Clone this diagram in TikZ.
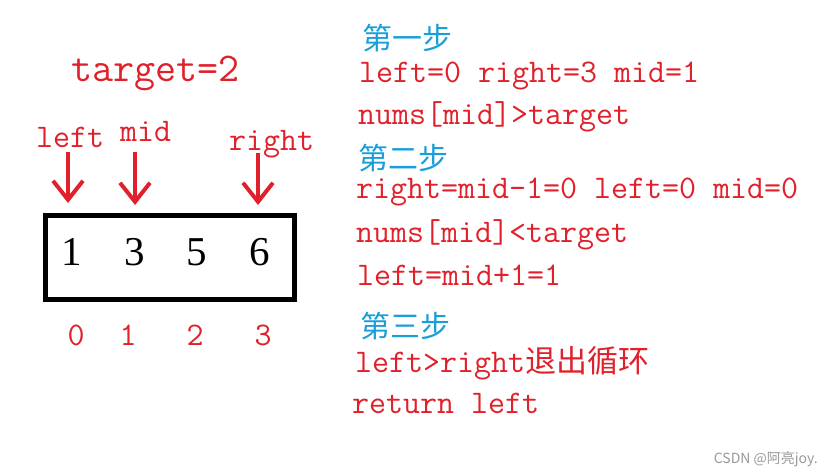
\documentclass[tikz,border=0pt]{standalone}
\usepackage{fontspec}
\setmainfont{Latin Modern Mono}
\newfontfamily\cjk{Noto Sans CJK SC}
\newfontfamily\numfont{Liberation Serif}
\usetikzlibrary{arrows.meta}
\definecolor{penred}{HTML}{E0202A}
\definecolor{stepblue}{HTML}{1A9ED9}
\begin{document}
\begin{tikzpicture}[x=1pt,y=-1pt,
  code/.style={anchor=base west,inner sep=0pt,text=penred,font=\fontsize{33}{34}\selectfont},
  stephead/.style={anchor=base west,inner sep=0pt,text=stepblue,font=\cjk\fontsize{30}{32}\selectfont},
  ptrlbl/.style={anchor=base west,inner sep=0pt,text=penred,font=\fontsize{33}{34}\selectfont},
  ptr/.style={penred,line width=4pt,-{Straight Barb[length=19pt,width=30pt]}},
  cell/.style={anchor=base,inner sep=0pt,font=\numfont\fontsize{41}{42}\selectfont},
  idx/.style={anchor=base,inner sep=0pt,text=penred,font=\fontsize{33}{34}\selectfont}]
\useasboundingbox (0,0) rectangle (833,476);
\node[anchor=base west,inner sep=0pt,text=penred,font=\fontsize{40.8}{42}\selectfont] (v1) at (71,82) {target=2};
\node[ptrlbl] (v2) at (36,148) {left};
\node[ptrlbl] (v3) at (120,142) {mid};
\node[ptrlbl] (v4) at (229,150) {right};
\node[draw,line width=5pt,minimum width=249pt,minimum height=84pt,inner sep=0pt] (arr) at (170,257.5) {};
\coordinate (t1) at (68,203);
\coordinate (t2) at (135,205);
\coordinate (t3) at (258,205);
\draw[ptr,shorten <=4pt] (v2.base -| t1) -- (t1);
\draw[ptr,shorten <=10pt] (v3.base -| t2) -- (t2);
\draw[ptr,shorten <=3pt] (v4.base -| t3) -- (t3);
\foreach \x/\v [count=\i from 0] in {72/1,135/3,197/5,260/6}
  \node[cell] (c\i) at (\x,265) {\v};
\foreach \x/\i in {76/0,128/1,195/2,263/3}
  \node[idx] (i\i) at (\x,345) {\i};
% steps
\node[stephead] (s1) at (362,50) {第一步};
\node[code] (l1) at (359,83) {left=0 right=3 mid=1};
\node[code] (l2) at (358,125) {nums[mid]>target};
\node[stephead] (s2) at (358,170) {第二步};
\node[code] (l3) at (356,198) {right=mid-1=0 left=0 mid=0};
\node[code] (l4) at (356,242) {nums[mid]<target};
\node[code] (l5) at (357,285) {left=mid+1=1};
\node[stephead] (s3) at (360,337) {第三步};
\node[code] (l6) at (355,372) {left>right{\cjk\fontsize{31}{32}\selectfont 退出循环}};
\node[code] (l7) at (352,413) {return left};
\node[anchor=base east,inner sep=0pt,text=black!40,font=\cjk\fontsize{14}{15}\selectfont] (wm) at (818,463) {CSDN @阿亮joy.};
\end{tikzpicture}
\end{document}
